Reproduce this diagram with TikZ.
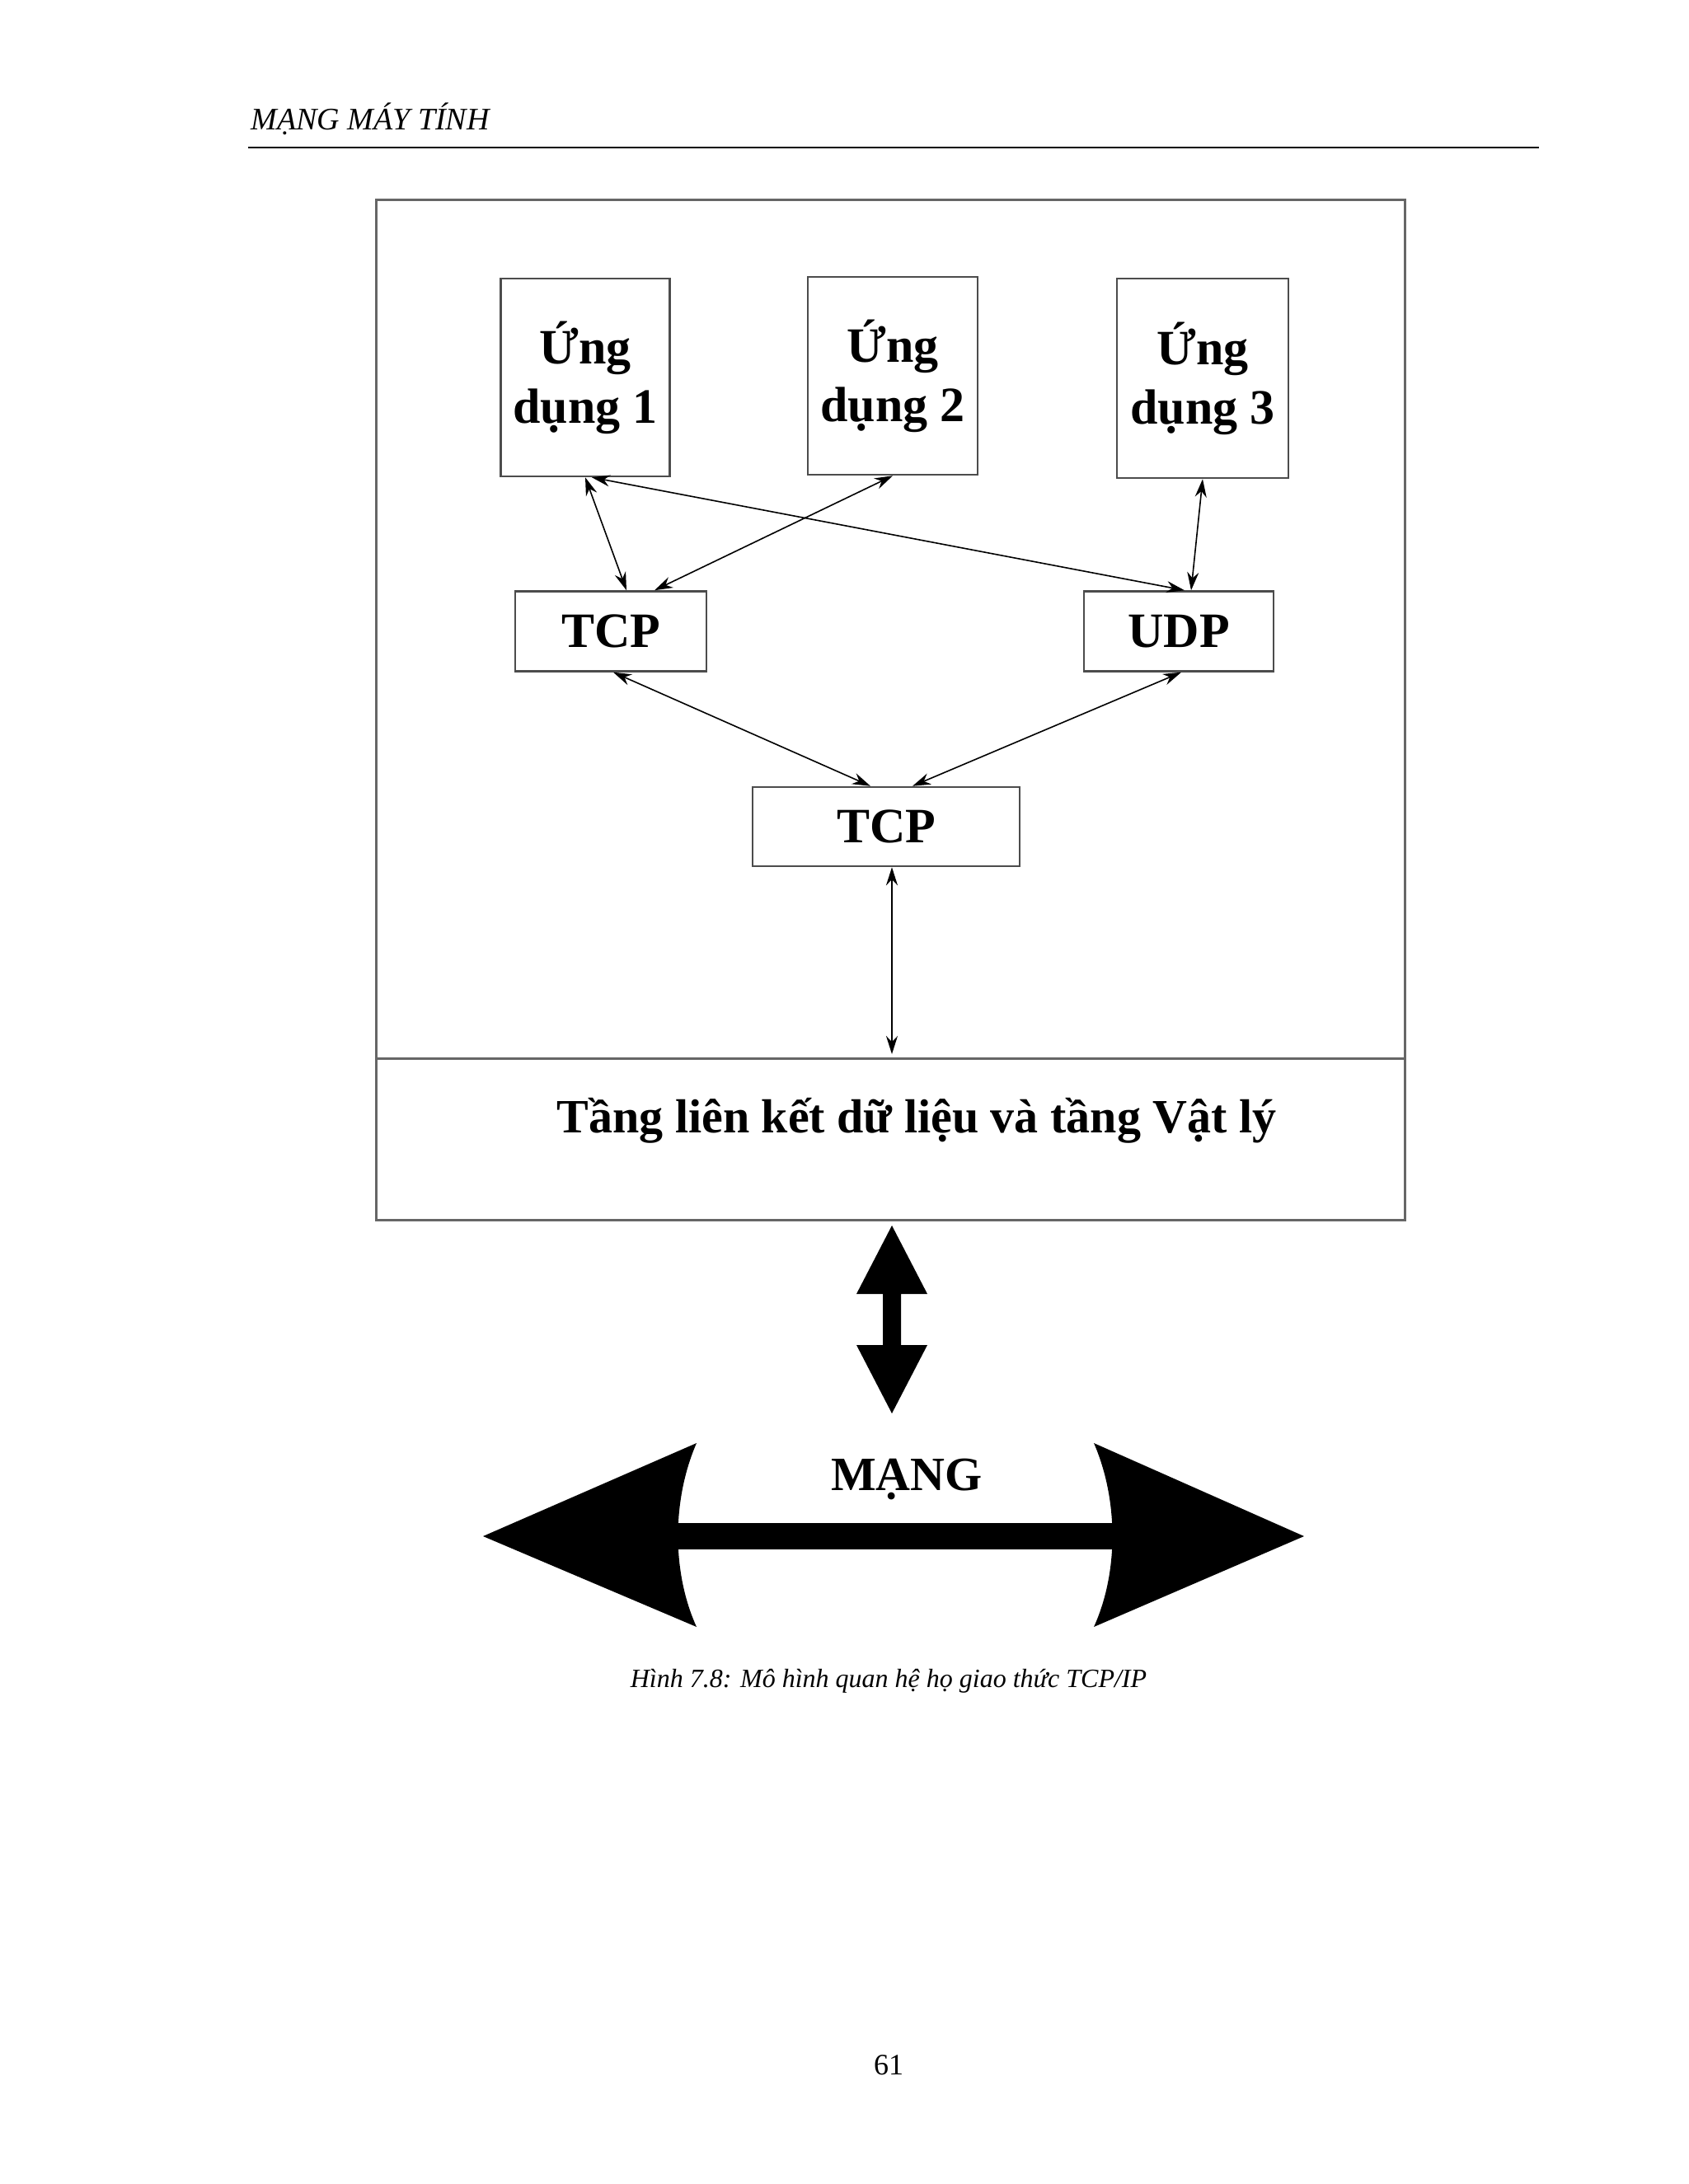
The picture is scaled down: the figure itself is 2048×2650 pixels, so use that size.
\documentclass[tikz,border=0pt]{standalone}
\usepackage{fontspec}
\setmainfont{Liberation Serif}
\usetikzlibrary{arrows.meta}
\begin{document}
\begin{tikzpicture}[x=1pt,y=-1pt,
 box/.style={draw=black!70,line width=2.5pt,font=\bfseries\fontsize{60}{72}\selectfont,inner sep=0pt,align=center},
 conn/.style={line width=1.6pt,{Stealth[length=22pt,width=14pt]}-{Stealth[length=22pt,width=14pt]}}]
\useasboundingbox (0,0) rectangle (2048,2650);
\node[font=\itshape\fontsize{38}{44}\selectfont,anchor=west] (hdr) at (301,144) {MẠNG MÁY TÍNH};
\draw[line width=2pt] (301,179) -- (1867,179);
\node[draw=black!60,line width=3pt,minimum width=1248pt,minimum height=1238pt,inner sep=0pt] (outer) at (1080,861) {};
\coordinate (L) at (456,1284); \coordinate (R) at (1704,1284);
\draw[black!60,line width=3pt] (L) -- (R);
\node[box,minimum width=205pt,minimum height=240pt] (app1) at (710,458) {Ứng\\dụng 1};
\node[box,minimum width=206pt,minimum height=240pt] (app2) at (1083,456) {Ứng\\dụng 2};
\node[box,minimum width=208pt,minimum height=242pt] (app3) at (1459,459) {Ứng\\dụng 3};
\node[box,minimum width=232pt,minimum height=97pt] (tcp) at (741,766) {TCP};
\node[box,minimum width=230pt,minimum height=97pt] (udp) at (1430,766) {UDP};
\node[box,minimum width=324pt,minimum height=96pt] (ip) at (1075,1003) {TCP};
\node[font=\bfseries\fontsize{58}{70}\selectfont] (link) at (1112,1360) {Tầng liên kết dữ liệu và tầng Vật lý};
\draw[conn] (app1.south) -- ([xshift=19pt]tcp.north);
\draw[conn] ([xshift=8pt]app1.south) -- ([xshift=7pt]udp.north);
\draw[conn] (app2.south) -- ([xshift=53pt]tcp.north);
\draw[conn] (app3.south) -- ([xshift=15pt]udp.north);
\draw[conn] ([xshift=3pt]tcp.south) -- ([xshift=-19pt]ip.north);
\draw[conn] ([xshift=3pt]udp.south) -- ([xshift=32pt]ip.north);
\coordinate (ipl) at (1082,1279);
\draw[conn] ([xshift=7pt]ip.south) -- (ipl);
% big vertical arrow
\fill (1082,1487) -- (1125,1570) -- (1093,1570) -- (1093,1632) -- (1125,1632) -- (1082,1715) -- (1039,1632) -- (1071,1632) -- (1071,1570) -- (1039,1570) -- cycle;
\node[font=\bfseries\fontsize{58}{70}\selectfont] (mang) at (1100,1795) {MẠNG};
% horizontal arrow
\fill (586,1864) -- (845,1751) .. controls (815,1820) and (815,1908) .. (845,1974) -- cycle;
\fill (1582,1864) -- (1327,1751) .. controls (1357,1820) and (1357,1908) .. (1327,1974) -- cycle;
\fill (820,1848) rectangle (1352,1880);
\node[font=\itshape\fontsize{32}{38}\selectfont] (cap) at (1078,2040) {Hình 7.8: Mô hình quan hệ họ giao thức TCP/IP};
\node[font=\fontsize{36}{42}\selectfont] (pg) at (1078,2506) {61};
\end{tikzpicture}
\end{document}
